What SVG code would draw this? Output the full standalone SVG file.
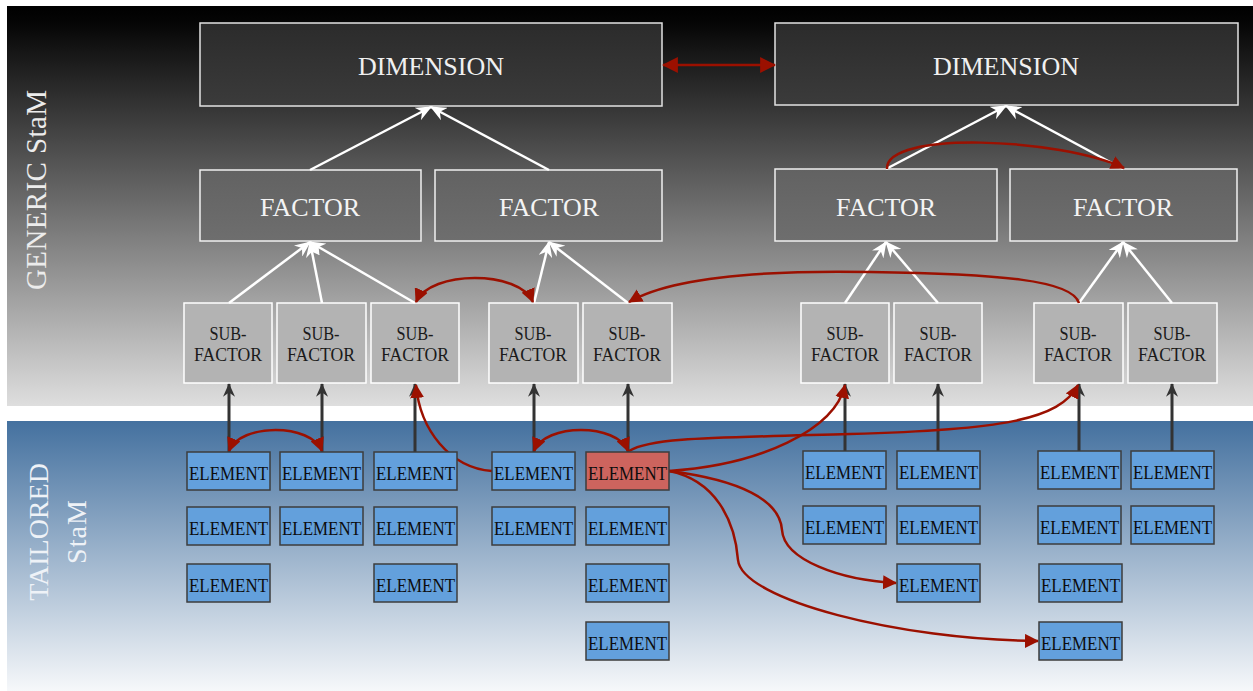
<svg xmlns="http://www.w3.org/2000/svg" width="1253" height="691" viewBox="0 0 1253 691">
<defs>
<linearGradient id="gTop" x1="0" y1="0" x2="0" y2="1">
<stop offset="0" stop-color="#000"/><stop offset="0.04" stop-color="#050505"/><stop offset="1" stop-color="#dedede"/>
</linearGradient>
<linearGradient id="gBot" x1="0" y1="0" x2="0" y2="1">
<stop offset="0" stop-color="#44719f"/><stop offset="1" stop-color="#f6f8fa"/>
</linearGradient>
<linearGradient id="gDim" x1="0" y1="0" x2="0" y2="1">
<stop offset="0" stop-color="#2b2b2b"/><stop offset="1" stop-color="#3b3b3b"/>
</linearGradient>
<linearGradient id="gFac" x1="0" y1="0" x2="0" y2="1">
<stop offset="0" stop-color="#626262"/><stop offset="1" stop-color="#6e6e6e"/>
</linearGradient>
<marker id="wh" viewBox="0 0 16 14" refX="15" refY="7" markerWidth="16" markerHeight="14" markerUnits="userSpaceOnUse" orient="auto">
<path d="M0,0 L16,7 L0,14 L5,7 Z" fill="#fff"/>
</marker>
<marker id="dk" viewBox="0 0 16 14" refX="15" refY="7" markerWidth="14" markerHeight="12" markerUnits="userSpaceOnUse" orient="auto">
<path d="M0,0 L16,7 L0,14 L5,7 Z" fill="#333"/>
</marker>
<marker id="rd" viewBox="0 0 14 14" refX="13" refY="7" markerWidth="14" markerHeight="14" markerUnits="userSpaceOnUse" orient="auto-start-reverse">
<path d="M0,0 L14,7 L0,14 Z" fill="#9b1000"/>
</marker>
<marker id="rdBig" viewBox="0 0 14 14" refX="13" refY="7" markerWidth="16" markerHeight="16" markerUnits="userSpaceOnUse" orient="auto-start-reverse">
<path d="M0,0 L14,7 L0,14 Z" fill="#9b1000"/>
</marker>
</defs>
<style>
.dim rect{fill:url(#gDim);stroke:#e2e2e2;stroke-width:1.5}
.dim text{fill:#f0f0f0;font-family:"Liberation Serif",serif;font-size:26px;text-anchor:middle}
.fac rect{fill:url(#gFac);stroke:#f0f0f0;stroke-width:1.5}
.fac text{fill:#f4f4f4;font-family:"Liberation Serif",serif;font-size:26px;text-anchor:middle}
.sf rect{fill:#b3b3b3;stroke:#fff;stroke-width:1.5}
.sf text{fill:#1a1a1a;font-family:"Liberation Serif",serif;font-size:19px;text-anchor:middle}
.el rect{fill:#63a0dc;stroke:#3d3d3d;stroke-width:1.5}
.el.hot rect{fill:#cd645e}
.el text{fill:#0d0d0d;font-family:"Liberation Serif",serif;font-size:19px;text-anchor:middle}
.lbl{fill:#ececec;font-family:"Liberation Serif",serif;font-size:29px;text-anchor:middle}
.lbl2{fill:#eef2f7;font-family:"Liberation Serif",serif;font-size:28px;text-anchor:middle}
.w{fill:none;stroke:#fff;stroke-width:2.5;marker-end:url(#wh)}
.d{fill:none;stroke:#333;stroke-width:3;marker-end:url(#dk)}
.r{fill:none;stroke:#9b1000;stroke-width:2.5;marker-end:url(#rd)}
.rb{marker-start:url(#rd)}
</style>
<rect x="0" y="0" width="1253" height="691" fill="#fff"/>
<rect x="7" y="6" width="1246" height="400" fill="url(#gTop)"/>
<rect x="7" y="421" width="1246" height="270" fill="url(#gBot)"/>
<text class="lbl" transform="translate(46,190) rotate(-90)" textLength="200">GENERIC StaM</text>
<text class="lbl2" transform="translate(48,532) rotate(-90)">TAILORED</text>
<text class="lbl2" transform="translate(86,532) rotate(-90)" textLength="64">StaM</text>

<g id="dim1" class="dim"><rect x="200" y="23" width="462" height="83"/><text x="431" y="75">DIMENSION</text></g>
<g id="dim2" class="dim"><rect x="775" y="23" width="463" height="82"/><text x="1006" y="75">DIMENSION</text></g>

<g id="fac1" class="fac"><rect x="200" y="170" width="221" height="71"/><text x="310" y="216">FACTOR</text></g>
<g id="fac2" class="fac"><rect x="435" y="170" width="227" height="71"/><text x="549" y="216">FACTOR</text></g>
<g id="fac3" class="fac"><rect x="775" y="169" width="222" height="72"/><text x="886" y="216">FACTOR</text></g>
<g id="fac4" class="fac"><rect x="1010" y="169" width="227" height="72"/><text x="1123" y="216">FACTOR</text></g>

<g id="sf1" class="sf"><rect x="184" y="303" width="88" height="80"/><text x="228" y="340" textLength="37" lengthAdjust="spacingAndGlyphs">SUB-</text><text x="228" y="361" textLength="68" lengthAdjust="spacingAndGlyphs">FACTOR</text></g>
<g id="sf2" class="sf"><rect x="277" y="303" width="89" height="80"/><text x="321" y="340" textLength="37" lengthAdjust="spacingAndGlyphs">SUB-</text><text x="321" y="361" textLength="68" lengthAdjust="spacingAndGlyphs">FACTOR</text></g>
<g id="sf3" class="sf"><rect x="371" y="303" width="88" height="80"/><text x="415" y="340" textLength="37" lengthAdjust="spacingAndGlyphs">SUB-</text><text x="415" y="361" textLength="68" lengthAdjust="spacingAndGlyphs">FACTOR</text></g>
<g id="sf4" class="sf"><rect x="489" y="303" width="89" height="80"/><text x="533" y="340" textLength="37" lengthAdjust="spacingAndGlyphs">SUB-</text><text x="533" y="361" textLength="68" lengthAdjust="spacingAndGlyphs">FACTOR</text></g>
<g id="sf5" class="sf"><rect x="583" y="303" width="89" height="80"/><text x="627" y="340" textLength="37" lengthAdjust="spacingAndGlyphs">SUB-</text><text x="627" y="361" textLength="68" lengthAdjust="spacingAndGlyphs">FACTOR</text></g>
<g id="sf6" class="sf"><rect x="801" y="303" width="88" height="80"/><text x="845" y="340" textLength="37" lengthAdjust="spacingAndGlyphs">SUB-</text><text x="845" y="361" textLength="68" lengthAdjust="spacingAndGlyphs">FACTOR</text></g>
<g id="sf7" class="sf"><rect x="894" y="303" width="88" height="80"/><text x="938" y="340" textLength="37" lengthAdjust="spacingAndGlyphs">SUB-</text><text x="938" y="361" textLength="68" lengthAdjust="spacingAndGlyphs">FACTOR</text></g>
<g id="sf8" class="sf"><rect x="1034" y="303" width="89" height="80"/><text x="1078" y="340" textLength="37" lengthAdjust="spacingAndGlyphs">SUB-</text><text x="1078" y="361" textLength="68" lengthAdjust="spacingAndGlyphs">FACTOR</text></g>
<g id="sf9" class="sf"><rect x="1128" y="303" width="89" height="80"/><text x="1172" y="340" textLength="37" lengthAdjust="spacingAndGlyphs">SUB-</text><text x="1172" y="361" textLength="68" lengthAdjust="spacingAndGlyphs">FACTOR</text></g>

<g id="connectors">
<path class="w" d="M310,170 L431,107"/>
<path class="w" d="M549,170 L431,107"/>
<path class="w" d="M886,169 L1006,106"/>
<path class="w" d="M1123,169 L1006,106"/>
<path class="w" d="M229,303 L310,242"/>
<path class="w" d="M322,303 L310,242"/>
<path class="w" d="M415,303 L310,242"/>
<path class="w" d="M534,303 L549,242"/>
<path class="w" d="M628,303 L549,242"/>
<path class="w" d="M845,303 L886,242"/>
<path class="w" d="M938,303 L886,242"/>
<path class="w" d="M1079,303 L1123,242"/>
<path class="w" d="M1172,303 L1123,242"/>
<path class="d" d="M229,452 L229,384"/>
<path class="d" d="M322,452 L322,384"/>
<path class="d" d="M415,452 L415,384"/>
<path class="d" d="M534,452 L534,384"/>
<path class="d" d="M628,452 L628,384"/>
<path class="d" d="M845,451 L845,384"/>
<path class="d" d="M938,451 L938,384"/>
<path class="d" d="M1079,451 L1079,384"/>
<path class="d" d="M1172,451 L1172,384"/>
<path class="r" style="marker-start:url(#rdBig);marker-end:url(#rdBig)" d="M663,65 L775,65"/>
<path class="r" d="M887,169 C885,130 1060,138 1124,168"/>
<path class="r rb" d="M416,302 C430,270 520,270 533,302"/>
<path class="r" d="M1079,303 C1072,280 1000,274 870,272 C760,270 670,278 629,302"/>
<path class="r rb" d="M229,451 C240,423 311,423 322,451"/>
<path class="r rb" d="M534,451 C545,423 617,423 628,451"/>
<path class="r" d="M492,471 C450,468 420,430 416,385"/>
<path class="r" d="M629,451 C650,438 700,438 850,434 C1000,430 1060,420 1078,385"/>
<path class="r" d="M669,471 C760,465 835,430 845,385"/>
<path class="r" d="M669,471 C740,480 780,500 782,530 C784,560 840,580 896,583"/>
<path class="r" d="M669,471 C715,480 735,520 738,560 C742,600 900,640 1038,641"/>
</g>

<g id="e1_1" class="el"><rect x="187" y="452" width="83" height="38"/><text x="228.5" y="480" textLength="79" lengthAdjust="spacingAndGlyphs">ELEMENT</text></g>
<g id="e1_2" class="el"><rect x="187" y="507" width="83" height="38"/><text x="228.5" y="535" textLength="79" lengthAdjust="spacingAndGlyphs">ELEMENT</text></g>
<g id="e1_3" class="el"><rect x="187" y="564" width="83" height="38"/><text x="228.5" y="592" textLength="79" lengthAdjust="spacingAndGlyphs">ELEMENT</text></g>
<g id="e2_1" class="el"><rect x="280" y="452" width="83" height="38"/><text x="321.5" y="480" textLength="79" lengthAdjust="spacingAndGlyphs">ELEMENT</text></g>
<g id="e2_2" class="el"><rect x="280" y="507" width="83" height="38"/><text x="321.5" y="535" textLength="79" lengthAdjust="spacingAndGlyphs">ELEMENT</text></g>
<g id="e3_1" class="el"><rect x="374" y="452" width="83" height="38"/><text x="415.5" y="480" textLength="79" lengthAdjust="spacingAndGlyphs">ELEMENT</text></g>
<g id="e3_2" class="el"><rect x="374" y="507" width="83" height="38"/><text x="415.5" y="535" textLength="79" lengthAdjust="spacingAndGlyphs">ELEMENT</text></g>
<g id="e3_3" class="el"><rect x="374" y="564" width="83" height="38"/><text x="415.5" y="592" textLength="79" lengthAdjust="spacingAndGlyphs">ELEMENT</text></g>
<g id="e4_1" class="el"><rect x="492" y="452" width="83" height="38"/><text x="533.5" y="480" textLength="79" lengthAdjust="spacingAndGlyphs">ELEMENT</text></g>
<g id="e4_2" class="el"><rect x="492" y="507" width="83" height="38"/><text x="533.5" y="535" textLength="79" lengthAdjust="spacingAndGlyphs">ELEMENT</text></g>
<g id="e5_1" class="el hot"><rect x="586" y="452" width="83" height="38"/><text x="627.5" y="480" textLength="79" lengthAdjust="spacingAndGlyphs">ELEMENT</text></g>
<g id="e5_2" class="el"><rect x="586" y="507" width="83" height="38"/><text x="627.5" y="535" textLength="79" lengthAdjust="spacingAndGlyphs">ELEMENT</text></g>
<g id="e5_3" class="el"><rect x="586" y="564" width="83" height="38"/><text x="627.5" y="592" textLength="79" lengthAdjust="spacingAndGlyphs">ELEMENT</text></g>
<g id="e5_4" class="el"><rect x="586" y="622" width="83" height="38"/><text x="627.5" y="650" textLength="79" lengthAdjust="spacingAndGlyphs">ELEMENT</text></g>
<g id="e6_1" class="el"><rect x="803" y="451" width="83" height="38"/><text x="844.5" y="479" textLength="79" lengthAdjust="spacingAndGlyphs">ELEMENT</text></g>
<g id="e6_2" class="el"><rect x="803" y="506" width="83" height="38"/><text x="844.5" y="534" textLength="79" lengthAdjust="spacingAndGlyphs">ELEMENT</text></g>
<g id="e7_1" class="el"><rect x="897" y="451" width="83" height="38"/><text x="938.5" y="479" textLength="79" lengthAdjust="spacingAndGlyphs">ELEMENT</text></g>
<g id="e7_2" class="el"><rect x="897" y="506" width="83" height="38"/><text x="938.5" y="534" textLength="79" lengthAdjust="spacingAndGlyphs">ELEMENT</text></g>
<g id="e7_3" class="el"><rect x="897" y="564" width="83" height="38"/><text x="938.5" y="592" textLength="79" lengthAdjust="spacingAndGlyphs">ELEMENT</text></g>
<g id="e8_1" class="el"><rect x="1038" y="451" width="83" height="38"/><text x="1079.5" y="479" textLength="79" lengthAdjust="spacingAndGlyphs">ELEMENT</text></g>
<g id="e8_2" class="el"><rect x="1038" y="506" width="83" height="38"/><text x="1079.5" y="534" textLength="79" lengthAdjust="spacingAndGlyphs">ELEMENT</text></g>
<g id="e8_3" class="el"><rect x="1039" y="564" width="83" height="38"/><text x="1080.5" y="592" textLength="79" lengthAdjust="spacingAndGlyphs">ELEMENT</text></g>
<g id="e8_4" class="el"><rect x="1039" y="622" width="83" height="38"/><text x="1080.5" y="650" textLength="79" lengthAdjust="spacingAndGlyphs">ELEMENT</text></g>
<g id="e9_1" class="el"><rect x="1131" y="451" width="83" height="38"/><text x="1172.5" y="479" textLength="79" lengthAdjust="spacingAndGlyphs">ELEMENT</text></g>
<g id="e9_2" class="el"><rect x="1131" y="506" width="83" height="38"/><text x="1172.5" y="534" textLength="79" lengthAdjust="spacingAndGlyphs">ELEMENT</text></g>
</svg>
